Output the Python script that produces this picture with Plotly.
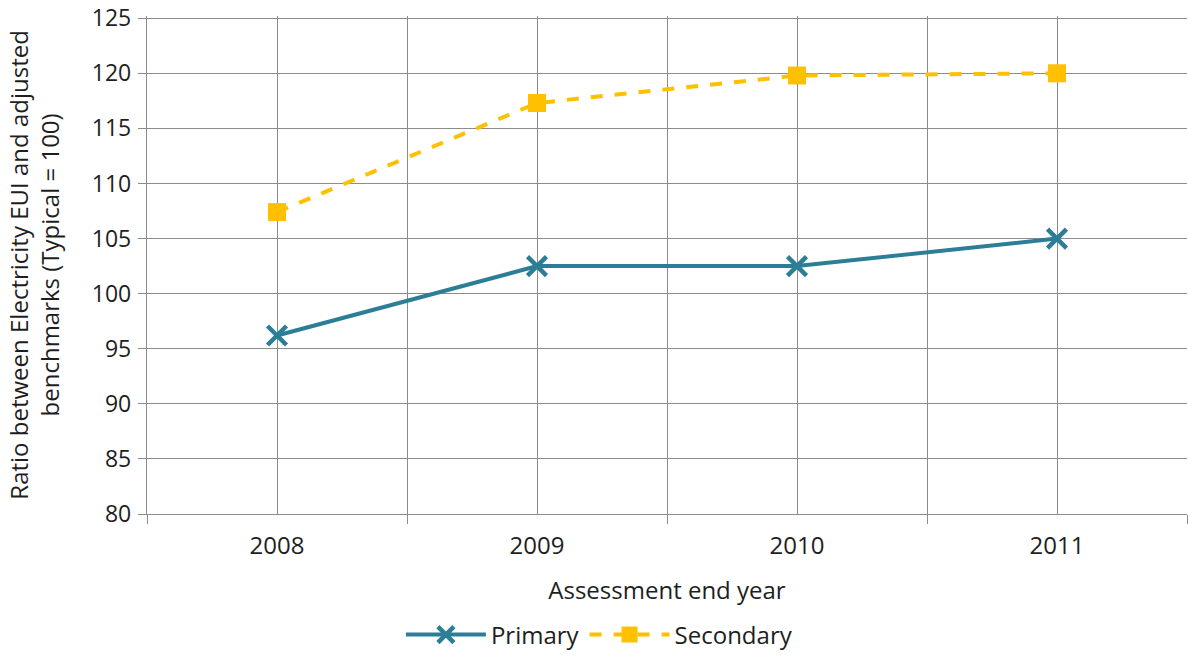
import plotly.graph_objects as go

years = ["2008", "2009", "2010", "2011"]
primary = [96.2, 102.5, 102.5, 105.0]
secondary = [107.4, 117.3, 119.8, 120.0]
y_ticks = [80, 85, 90, 95, 100, 105, 110, 115, 120, 125]

FONT = "Open Sans"
xpos = list(range(len(years)))

fig = go.Figure()
fig.add_trace(go.Scatter(
    x=xpos, y=primary, name="Primary", mode="lines+markers",
    line=dict(color="#2C7E97", width=4),
    marker=dict(symbol="x-thin", size=19, line=dict(color="#2C7E97", width=4.5), color="#2C7E97"),
))
fig.add_trace(go.Scatter(
    x=xpos, y=secondary, name="Secondary", mode="lines+markers",
    line=dict(color="#FFC000", width=4, dash="dash"),
    marker=dict(symbol="square", size=18, color="#FFC000"),
))

fig.add_annotation(
    text="Ratio between Electricity EUI and adjusted<br>benchmarks (Typical = 100)",
    xref="paper", yref="paper", x=-0.109, y=0.5, xanchor="center", yanchor="middle",
    textangle=-90, showarrow=False, font=dict(size=24, family=FONT, color="#1e1e1e"),
)

fig.update_layout(
    width=1188, height=658,
    margin=dict(l=147, r=1, t=16, b=140),
    paper_bgcolor="white", plot_bgcolor="white",
    font=dict(family=FONT, size=22, color="#1e1e1e"),
    showlegend=True,
    legend=dict(orientation="h", x=0.435, xanchor="center", y=-0.243, yanchor="middle",
                font=dict(size=24, family=FONT), itemwidth=80, tracegroupgap=0),
    xaxis=dict(
        range=[-0.5, len(years) - 0.5],
        tickvals=xpos, ticktext=years, ticks="",
        showgrid=True, gridcolor="#8c8c8c", gridwidth=1.3,
        showline=True, linecolor="#8c8c8c", linewidth=1.3,
        tickfont=dict(size=24), zeroline=False, automargin=False,
        ticklabelstandoff=10,
        minor=dict(tick0=-0.5, dtick=1, ticks="outside", ticklen=9, tickcolor="#8c8c8c",
                   tickwidth=1.3, showgrid=True, gridcolor="#8c8c8c", gridwidth=1.3),
        title=dict(text="Assessment end year", font=dict(size=24), standoff=22),
    ),
    yaxis=dict(
        range=[80, 125.2], tickvals=y_ticks,
        ticks="outside", ticklen=8, tickcolor="#8c8c8c", tickwidth=1.3,
        showgrid=True, gridcolor="#8c8c8c", gridwidth=1.3,
        showline=True, linecolor="#8c8c8c", linewidth=1.3,
        tickfont=dict(size=23), zeroline=False, automargin=False,
        ticklabelstandoff=2, ticklabeloverflow="allow",
    ),
)

fig.write_html("out.html")
